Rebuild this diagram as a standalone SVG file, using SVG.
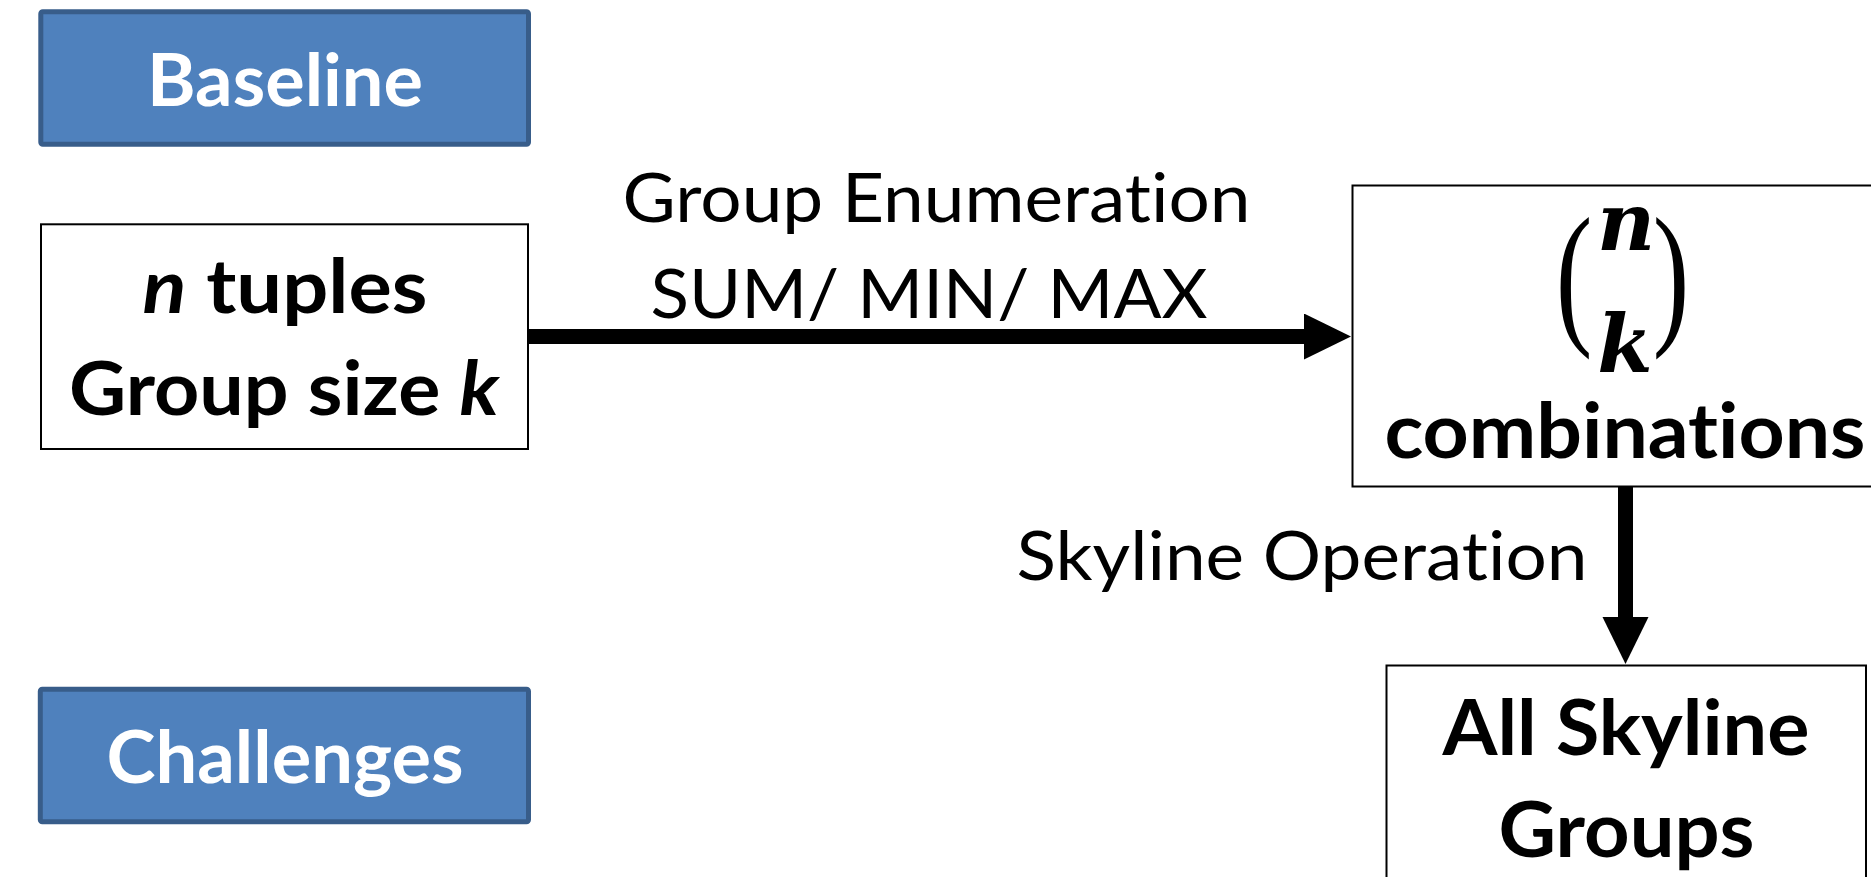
<svg xmlns="http://www.w3.org/2000/svg" width="1871" height="877" viewBox="0 0 1871 877">
  <style>
    text { font-variant-ligatures: none; font-feature-settings: "liga" 0, "clig" 0; }
    .hdr { fill: #4F81BD; stroke: #385D8A; stroke-width: 5; }
    .hdr-text { font-family: Lato, "Open Sans", "Liberation Sans", sans-serif; font-weight: 700; font-size: 72px; fill: #FFFFFF; text-anchor: middle; }
    .box { fill: #FFFFFF; stroke: #000000; stroke-width: 2; }
    .bold { font-family: Lato, "Open Sans", "Liberation Sans", sans-serif; font-weight: 700; fill: #000000; text-anchor: middle; }
    .label { font-family: Lato, "Open Sans", "Liberation Sans", sans-serif; font-weight: 400; font-size: 67px; fill: #000000; text-anchor: middle; }
    .math { font-family: "DejaVu Serif", "Liberation Serif", serif; font-weight: 700; font-style: italic; font-size: 80px; fill: #000000; text-anchor: middle; }
    .paren { font-family: "Liberation Serif", "DejaVu Serif", serif; font-weight: 400; font-size: 157px; fill: #000000; text-anchor: middle; }
    .flow { fill: none; stroke: #000000; stroke-width: 15; marker-end: url(#head); }
  </style>
  <defs>
    <marker id="head" markerUnits="userSpaceOnUse" markerWidth="48" markerHeight="47" refX="0" refY="23" orient="auto">
      <path d="M0,0 L47,23 L0,46 Z" fill="#000000"/>
    </marker>
  </defs>

  <rect width="1871" height="877" fill="#FFFFFF"/>

  <!-- section headers -->
  <g id="baseline-header">
    <rect class="hdr" x="40.8" y="11.8" width="487.7" height="132.4" rx="2"/>
    <text class="hdr-text" x="285" y="106" textLength="276" lengthAdjust="spacingAndGlyphs">Baseline</text>
  </g>

  <g id="challenges-header">
    <rect class="hdr" x="40.3" y="689.2" width="488.2" height="132.6" rx="2"/>
    <text class="hdr-text" x="285" y="783" textLength="357" lengthAdjust="spacingAndGlyphs">Challenges</text>
  </g>

  <!-- input -->
  <g id="input">
    <rect class="box" x="41" y="224.3" width="487" height="224.7"/>
    <text class="bold" font-size="74" x="285" y="313" textLength="285" lengthAdjust="spacingAndGlyphs"><tspan font-style="italic">n</tspan> tuples</text>
    <text class="bold" font-size="74" x="284" y="415" textLength="430" lengthAdjust="spacingAndGlyphs">Group size <tspan font-style="italic">k</tspan></text>
  </g>

  <!-- all k-combinations -->
  <g id="combinations">
    <rect class="box" x="1352.5" y="185.5" width="545" height="301"/>
    <text class="paren" transform="translate(1574,326) scale(0.7,1)">(</text>
    <text class="paren" transform="translate(1671,326) scale(0.7,1)">)</text>
    <text class="math" x="1626" y="250">n</text>
    <text class="math" font-size="84" x="1625" y="372">k</text>
    <text class="bold" font-size="76" x="1625" y="458" textLength="481" lengthAdjust="spacingAndGlyphs">combinations</text>
  </g>

  <!-- result -->
  <g id="skyline-groups">
    <rect class="box" x="1386.5" y="665.5" width="479.5" height="300"/>
    <text class="bold" font-size="76" x="1626" y="755" textLength="367" lengthAdjust="spacingAndGlyphs">All Skyline</text>
    <text class="bold" font-size="76" x="1626.5" y="857" textLength="256" lengthAdjust="spacingAndGlyphs">Groups</text>
  </g>

  <!-- connectors -->
  <g id="connectors">
    <path class="flow" d="M529,336.5 L1304,336.5"/>
    <text class="label" x="936.5" y="222" textLength="628" lengthAdjust="spacingAndGlyphs">Group Enumeration</text>
    <text class="label" x="929" y="318" textLength="557" lengthAdjust="spacingAndGlyphs">SUM/ MIN/ MAX</text>

    <path class="flow" d="M1625.5,487 L1625.5,617"/>
    <text class="label" x="1302" y="580" textLength="571" lengthAdjust="spacingAndGlyphs">Skyline Operation</text>
  </g>
</svg>
